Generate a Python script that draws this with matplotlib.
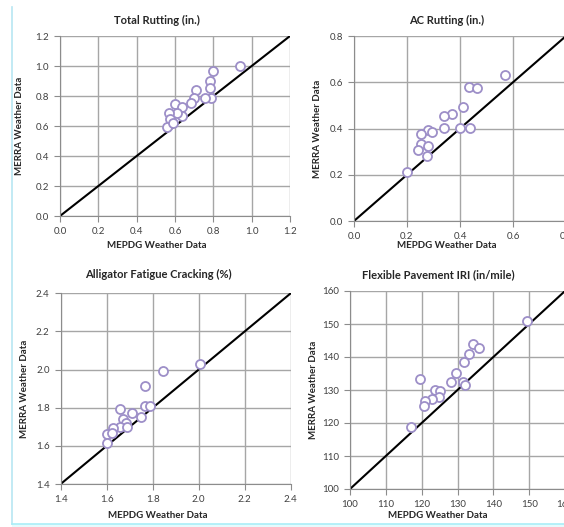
import matplotlib
matplotlib.use("Agg")
import matplotlib.pyplot as plt
from matplotlib.lines import Line2D
from matplotlib.patches import Rectangle
import numpy as np

plt.rcParams["font.family"] = ["Lato", "DejaVu Sans"]

# ── data ─────────────────────────────────────────────────────────────────────
total_x = [0.94, 0.80, 0.785, 0.78, 0.79, 0.755, 0.71, 0.70, 0.685, 0.60,
           0.635, 0.635, 0.61, 0.57, 0.575, 0.557, 0.59]
total_y = [1.00, 0.97, 0.90, 0.855, 0.787, 0.787, 0.84, 0.79, 0.755, 0.747,
           0.724, 0.667, 0.69, 0.684, 0.644, 0.596, 0.618]

ac_x = [0.57, 0.433, 0.464, 0.413, 0.371, 0.34, 0.341, 0.40, 0.437, 0.278,
        0.296, 0.253, 0.253, 0.28, 0.243, 0.274, 0.20]
ac_y = [0.633, 0.58, 0.573, 0.494, 0.461, 0.452, 0.403, 0.403, 0.403, 0.393,
        0.383, 0.375, 0.331, 0.324, 0.305, 0.282, 0.212]

alg_x = [2.006, 1.846, 1.768, 1.768, 1.79, 1.658, 1.709, 1.749, 1.67, 1.686,
         1.658, 1.688, 1.629, 1.60, 1.622, 1.60]
alg_y = [2.031, 1.993, 1.914, 1.809, 1.81, 1.792, 1.771, 1.753, 1.741, 1.718,
         1.70, 1.70, 1.692, 1.664, 1.666, 1.617]

iri_x = [149.5, 134.3, 136.1, 133.1, 131.7, 129.5, 128.1, 131.5, 132.0, 119.6,
         123.6, 125.1, 124.9, 122.8, 121.0, 120.7, 117.0]
iri_y = [150.8, 143.9, 142.8, 140.9, 138.4, 135.3, 132.4, 132.4, 131.6, 133.4,
         130.0, 129.6, 127.8, 127.2, 126.7, 125.2, 118.7]

titles = ["Total Rutting (in.)", "AC Rutting (in.)",
          "Alligator Fatigue Cracking (%)", "Flexible Pavement IRI (in/mile)"]
ticks = [np.arange(0, 1.21, 0.2), np.arange(0, 0.81, 0.2),
         np.arange(1.4, 2.41, 0.2), np.arange(100, 161, 10)]
fmts = ["{:.1f}", "{:.1f}", "{:.1f}", "{:.0f}"]

W, H = 564, 527
fig = plt.figure(figsize=(W / 100, H / 100), dpi=100)

# axes boxes in pixels: left, top, right, bottom
boxes = [(60, 36, 290, 216), (354, 36, 566, 221),
         (60.7, 293.3, 290.7, 484), (350, 291, 565, 489)]
# label / title centres in pixels
ylab_px = [20, 317, 25, 313]
xlab_px = [(157, 246), (447, 246), (158, 515), (438, 516)]
title_px = [(157, 20), (447, 20), (158, 274), (438, 275)]
series = [(total_x, total_y), (ac_x, ac_y), (alg_x, alg_y), (iri_x, iri_y)]

txt = dict(fontweight="bold", color="#262626", ha="center", va="center")

for i, (l, t, r, b) in enumerate(boxes):
    ax = fig.add_axes([l / W, 1 - b / H, (r - l) / W, (b - t) / H])
    tk = ticks[i]
    lo, hi = tk[0], tk[-1]
    ax.set_xlim(lo, hi); ax.set_ylim(lo, hi)
    ax.set_xticks(tk); ax.set_yticks(tk)
    ax.set_xticklabels([fmts[i].format(v) for v in tk])
    ax.set_yticklabels([fmts[i].format(v) for v in tk])
    ax.grid(True, color="#a6a6a6", lw=1.0)
    ax.set_axisbelow(True)
    for s in ["top", "right"]:
        ax.spines[s].set_visible(False)
    for s in ["left", "bottom"]:
        ax.spines[s].set_color("#8c8c8c")
    ax.tick_params(direction="out", length=4, width=0.8, color="#8c8c8c",
                   labelsize=7, labelcolor="#404040", pad=4)
    ax.plot([lo, hi], [lo, hi], color="black", lw=1.5, zorder=2)
    x, y = series[i]
    ax.plot(x, y, "o", ms=6.5, mfc="white", mec="#9d8fc8", mew=1.3,
            ls="none", zorder=3)

    # labels and title placed in figure pixels
    fig.text(xlab_px[i][0] / W, 1 - xlab_px[i][1] / H, "MEPDG Weather Data",
             fontsize=7, **txt)
    fig.text(ylab_px[i] / W, 1 - (t + b) / 2 / H, "MERRA Weather Data",
             fontsize=7, rotation=90, **txt)
    fig.text(title_px[i][0] / W, 1 - title_px[i][1] / H, titles[i],
             fontsize=8, **txt)

# light blue frame from the source document
fig.add_artist(Line2D([11.5 / W, 11.5 / W], [1 - 7 / H, 1 - 524 / H],
                      color="#b8e6f2", lw=1.2))
fig.add_artist(Line2D([11.5 / W, 1], [1 - 524 / H, 1 - 524 / H],
                      color="#a9eef7", lw=1.2))
fig.add_artist(Rectangle((11.5 / W, 0), 1, 3 / H, color="#e6fbfd", lw=0))

fig.savefig("out.png", dpi=100)
